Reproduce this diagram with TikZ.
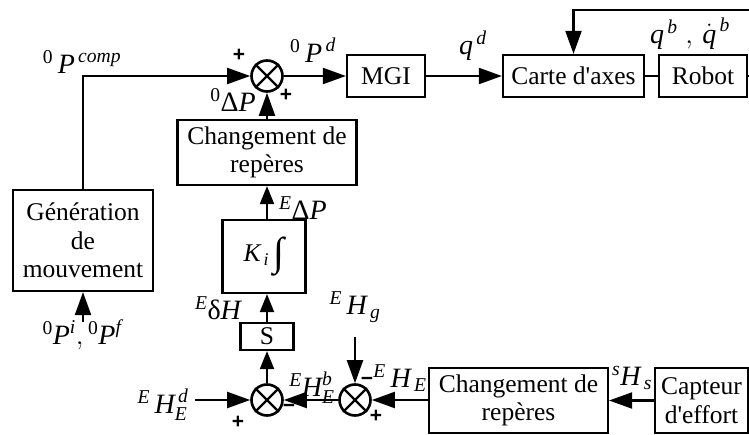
\RequirePackage{fix-cm}
\documentclass[tikz,border=0pt]{standalone}
\usepackage{amsmath}
\usepackage{fontspec}
\setmainfont{Liberation Serif}
\newfontfamily\signfont{Liberation Sans}
\usetikzlibrary{arrows.meta}
\newcommand{\mi}[1]{\textit{#1}}
\begin{document}
\begin{tikzpicture}[x=1pt,y=-1pt, line width=2.1pt,
  box/.style={draw, line width=2.2pt, inner sep=0pt, align=center,
    font=\fontsize{25.5}{28.5}\selectfont},
  sumnode/.style={draw, circle, minimum size=31pt, inner sep=0pt, line width=2.6pt},
  arr/.style={-{Triangle[length=23pt,width=16pt]}},
  arrs/.style={-{Triangle[length=18pt,width=14pt]}},
  lab/.style={font=\fontsize{28}{30}\selectfont, inner sep=0pt},
  sign/.style={font=\signfont\bfseries\fontsize{21}{21}\selectfont, inner sep=0pt}]
\useasboundingbox (0,0) rectangle (749,435);

% boxes
\node[box, minimum width=140pt, minimum height=101pt] (gen) at (83,240.5)
  {Génération\\de\\mouvement};
\node[box, minimum width=179pt, minimum height=65pt] (chg1) at (267,152.5)
  {Changement de\\repères};
\node[box, minimum width=83pt, minimum height=73pt] (ki) at (264,256.5)
  {$\mi{K}_{\,\mi{i}}$\,\raisebox{-4pt}{\fontsize{40}{40}\selectfont ∫}};
\node[box, minimum width=53pt, minimum height=27pt] (S) at (267,336.5) {S};
\node[box, minimum width=78pt, minimum height=42pt] (mgi) at (386,76) {MGI};
\node[box, minimum width=141pt, minimum height=42pt] (carte) at (573.5,76) {Carte d\textquotesingle axes};
\node[box, minimum width=88pt, minimum height=42pt] (robot) at (703,76) {Robot};
\node[box, minimum width=179pt, minimum height=65pt] (chg2) at (518.5,400.5)
  {Changement de\\repères};
\node[box, minimum width=93pt, minimum height=65pt] (capt) at (701.5,400.5)
  {Capteur\\d\textquotesingle effort};

% summing junctions
\node[sumnode] (s0) at (267,76) {};
\node[sumnode] (s1) at (267,400) {};
\node[sumnode] (s2) at (355,400) {};
\foreach \s in {s0,s1,s2}{
  \draw[line width=2.4pt] (\s.north west) -- (\s.south east)
                        (\s.north east) -- (\s.south west);
}

% free ends
\coordinate (inp) at (83,322);
\coordinate (fbtop) at (573.5,10);
\coordinate (hd) at (195,400);
\coordinate (hg) at (355,337);

% connectors
\draw[arr] (gen.north) |- (s0.west);
\draw[arr] (inp) -- (gen.south);
\draw[arr] (chg1.north -| s0.south) -- (s0.south);
\draw[arr] (s0.east) -- (mgi.west);
\draw[arr] (mgi.east) -- (carte.west);
\draw (carte.east) -- (robot.west);
\draw[arr] (robot.east) -- ++(8,0) |- (fbtop) -- (carte.north);
\draw[arrs] (ki.north -| s0.south) -- (chg1.south -| s0.south);
\draw[arrs] (S.north) -- (ki.south -| S.north);
\draw[arrs] (s1.north) -- (S.south);
\draw[arr] (hd) -- (s1.west);
\draw[arr] (s2.west) -- (s1.east);
\draw[arr] (hg) -- (s2.north);
\draw[arr] (chg2.west |- s2.east) -- (s2.east);
\draw[arr] (capt.west) -- (chg2.east);

% labels
\node[lab] (l1) at (82,62) {$^{\text{0}}\,\mi{P}^{\,\mi{comp}}$};
\node[lab] (l2) at (313,50) {$^{\text{0}}\,\mi{P}^{\,\mi{d}}$};
\node[lab] (l3) at (233,100) {$^{\text{0}}\text{Δ}\mi{P}$};
\node[lab] (l4) at (473,46) {$\mi{q}^{\,\mi{d}}$};
\node[lab] (l5) at (690,34) {$\mi{q}^{\,\mi{b}}\;,\,\dot{\mi{q}}^{\,\mi{b}}$};
\node[lab] (l6) at (303,208) {$^{\mi{E}}\text{Δ}\mi{P}$};
\node[lab] (l7) at (218,308) {$^{\mi{E}}\text{δ}\mi{H}$};
\node[lab] (l8) at (355,307) {$^{\mi{E}}\,\mi{H}_{\,\mi{g}}$};
\node[lab] (l9) at (312,388) {$^{\mi{E}}\mi{H}^{\mi{b}}_{\mi{E}}$};
\node[lab] (l10) at (163,405) {$^{\mi{E}}\,\mi{H}^{\,\mi{d}}_{\mi{E}}$};
\node[lab] (l11) at (400,378) {$^{\mi{E}}\,\mi{H}_{\,\mi{E}}$};
\node[lab] (l12) at (632,378) {$^{\mi{s}}\mi{H}_{\,\mi{s}}$};
\node[lab] (l13) at (82,335) {$^{\text{0}}\mi{P}^{\mi{i}},{}^{\text{0}}\mi{P}^{\mi{f}}$};

% signs
\node[sign] (p1) at (239,55) {+};
\node[sign] (p2) at (286,95) {+};
\node[sign] (p3) at (238,422) {+};
\node[sign] (m1) at (289,408) {−};
\node[sign] (m2) at (367,381) {−};
\node[sign] (p4) at (376,416) {+};
\end{tikzpicture}
\end{document}
